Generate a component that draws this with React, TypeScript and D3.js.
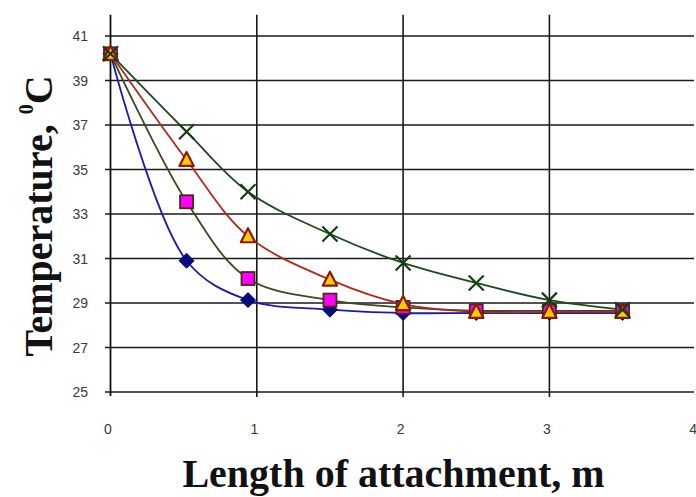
import React from "react";
import * as d3 from "d3";

const xValues = [0, 0.52, 0.94, 1.5, 2, 2.5, 3, 3.5];
const seriesDiamond = [40.2, 30.9, 29.13, 28.7, 28.55, 28.55, 28.55, 28.55];
const seriesSquare = [40.2, 33.55, 30.1, 29.13, 28.8, 28.65, 28.65, 28.65];
const seriesTriangle = [40.2, 35.43, 32.0, 30.05, 28.95, 28.6, 28.6, 28.6];
const seriesCross = [40.2, 36.7, 34.0, 32.1, 30.8, 29.9, 29.13, 28.7];
const yTicks = [25, 27, 29, 31, 33, 35, 37, 39, 41];
const xTicks = [0, 1, 2, 3, 4];
const xGrid = [1, 2, 3];

const W = 696;
const H = 497;

export default function App() {
  const x = d3.scaleLinear().domain([0, 4]).range([110.5, 695.7]);
  const y = d3.scaleLinear().domain([25, 41]).range([392, 36]);
  const yTop = y(41.95);
  const xRight = 694;

  const line = d3
    .line<number>()
    .x((_, i) => x(xValues[i]))
    .y((d) => y(d))
    .curve(d3.curveCatmullRom.alpha(0.5));

  const series = [
    { vals: seriesDiamond, color: "#1c1ca8", marker: "diamond" },
    { vals: seriesSquare, color: "#3a4a1c", marker: "square" },
    { vals: seriesTriangle, color: "#b02a1e", marker: "triangle" },
    { vals: seriesCross, color: "#1d4a1d", marker: "cross" },
  ];

  const drawMarker = (m: string, cx: number, cy: number, key: string) => {
    if (m === "diamond") {
      const s = 7.5;
      return (
        <path
          key={key}
          d={`M${cx},${cy - s}L${cx + s},${cy}L${cx},${cy + s}L${cx - s},${cy}Z`}
          fill="#0a0a80"
          stroke="#0a0a60"
          strokeWidth={1}
        />
      );
    }
    if (m === "square") {
      const s = 6.5;
      return (
        <rect
          key={key}
          x={cx - s}
          y={cy - s}
          width={2 * s}
          height={2 * s}
          fill="#ff00ff"
          stroke="#4a2a10"
          strokeWidth={1.8}
        />
      );
    }
    if (m === "triangle") {
      const s = 8;
      return (
        <path
          key={key}
          d={`M${cx},${cy - s}L${cx + s * 0.9},${cy + s * 0.75}L${cx - s * 0.9},${cy + s * 0.75}Z`}
          fill="#ffcc00"
          stroke="#8b1a0a"
          strokeWidth={2.2}
          strokeLinejoin="round"
        />
      );
    }
    const s = 7.5;
    return (
      <path
        key={key}
        d={`M${cx - s},${cy - s}L${cx + s},${cy + s}M${cx - s},${cy + s}L${cx + s},${cy - s}`}
        stroke="#143f14"
        strokeWidth={2.2}
        fill="none"
      />
    );
  };

  return (
    <svg
      width={W}
      height={H}
      style={{ position: "absolute", left: 0, top: 0, background: "#fff" }}
    >
      <rect x={0} y={0} width={W} height={H} fill="#fff" />
      {yTicks.map((t) => (
        <line
          key={"h" + t}
          x1={105}
          x2={xRight}
          y1={y(t)}
          y2={y(t)}
          stroke="#1a1a1a"
          strokeWidth={1.6}
        />
      ))}
      {xGrid.map((t) => (
        <line
          key={"v" + t}
          x1={x(t)}
          x2={x(t)}
          y1={yTop}
          y2={397}
          stroke="#1a1a1a"
          strokeWidth={1.6}
        />
      ))}
      <line x1={x(0)} x2={x(0)} y1={yTop} y2={396} stroke="#111" strokeWidth={1.8} />
      {yTicks.map((t) => (
        <text
          key={"yl" + t}
          x={88}
          y={y(t) + 5}
          textAnchor="end"
          fontFamily="Liberation Sans, Arial, sans-serif"
          fontSize={14}
          fill="#3a3a3a"
        >
          {t}
        </text>
      ))}
      {xTicks.map((t) => (
        <text
          key={"xl" + t}
          x={x(t) - 2.5}
          y={434}
          textAnchor="middle"
          fontFamily="Liberation Sans, Arial, sans-serif"
          fontSize={14}
          fill="#3a3a3a"
        >
          {t}
        </text>
      ))}
      {series.map((s, i) => (
        <path
          key={"l" + i}
          d={line(s.vals) || ""}
          fill="none"
          stroke={s.color}
          strokeWidth={1.8}
        />
      ))}
      {series.map((s, i) =>
        s.vals.map((v, j) => drawMarker(s.marker, x(xValues[j]), y(v), `m${i}-${j}`))
      )}
      <text
        x={393.5}
        y={486.5}
        textAnchor="middle"
        fontFamily="Liberation Serif, Times New Roman, serif"
        fontWeight="bold"
        fontSize={40}
        fill="#111"
      >
        Length of attachment, m
      </text>
      <text
        transform="translate(52,216) rotate(-90)"
        textAnchor="middle"
        fontFamily="Liberation Serif, Times New Roman, serif"
        fontWeight="bold"
        fontSize={40}
        fill="#111"
      >
        Temperature,{" "}
        <tspan fontSize={20} dy={-19}>
          0
        </tspan>
        <tspan dy={19}>C</tspan>
      </text>
    </svg>
  );
}
